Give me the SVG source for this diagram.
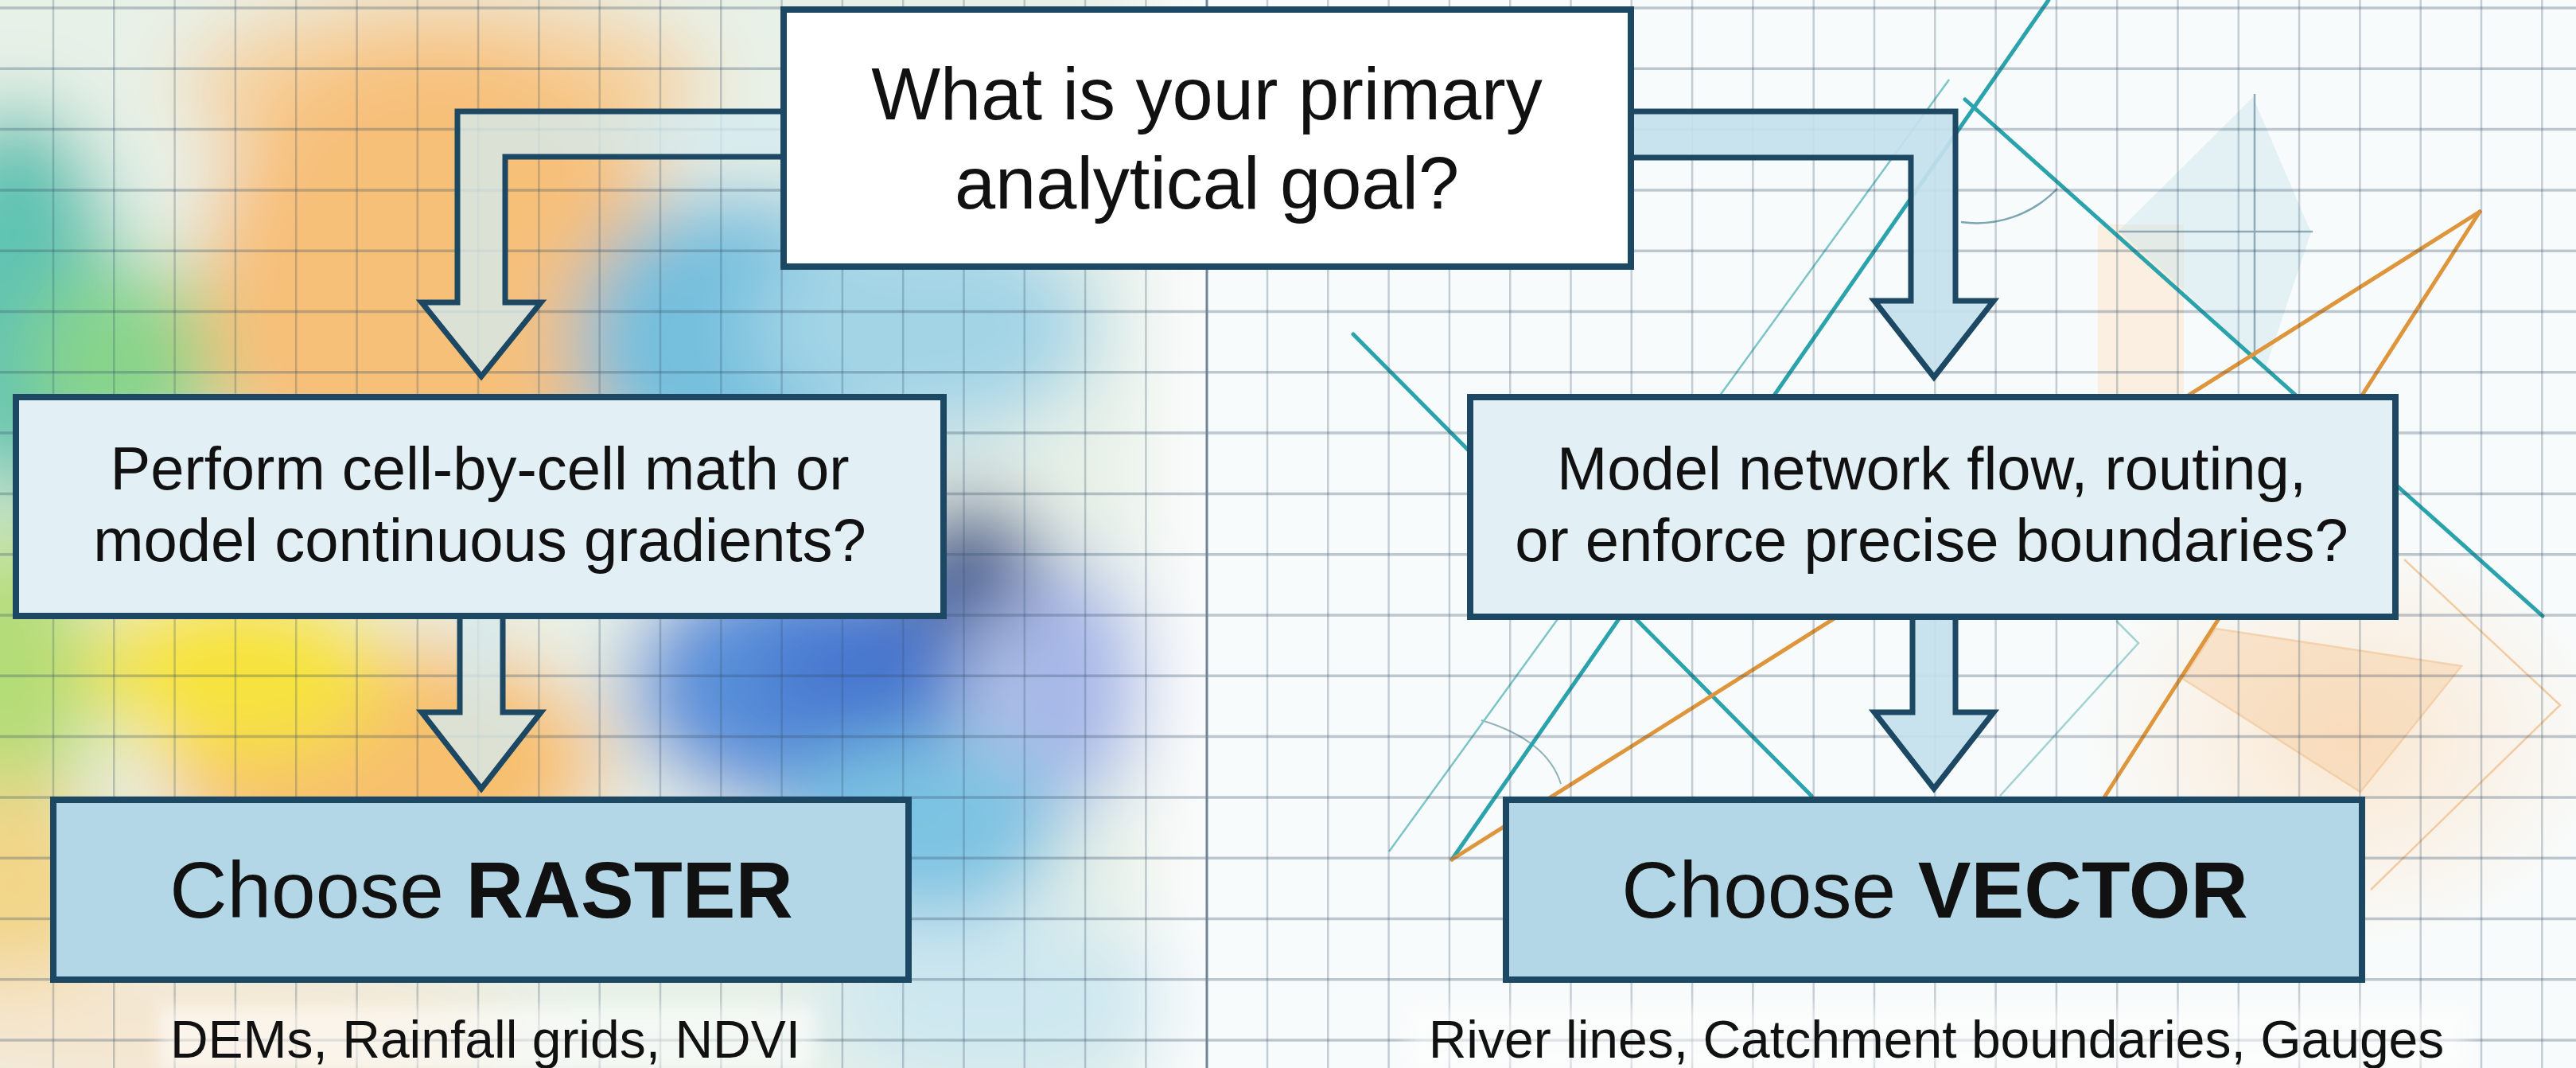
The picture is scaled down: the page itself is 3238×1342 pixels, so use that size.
<svg xmlns="http://www.w3.org/2000/svg" width="3238" height="1342" viewBox="0 0 3238 1342">
<defs>
<style>
.box{stroke:#1c4863;stroke-width:8}
.top{fill:#ffffff}
.q{fill:#e2eff5}
.choice{fill:#b3d7e6}
.arrowL{stroke:#1c4863;stroke-width:7;fill:#d5ebf0;fill-opacity:0.78}
.arrowR{stroke:#1c4863;stroke-width:7;fill:#c3e1eb;fill-opacity:0.92}
.t{font-family:"Liberation Sans",Arial,sans-serif;fill:#111;text-anchor:middle}
.teal{stroke:#2aa3ac;stroke-width:5;fill:none;stroke-linecap:round}
.tealthin{stroke:#7cc4c8;stroke-width:2.5;fill:none}
.orange{stroke:#de953c;stroke-width:5;fill:none;stroke-linecap:round}
.faint{stroke:#8eaab6;stroke-width:2.5;fill:none}
</style>
<clipPath id="leftClip"><rect x="0" y="0" width="1517" height="1342"/></clipPath>
<filter id="heat" filterUnits="userSpaceOnUse" x="-300" y="-300" width="2200" height="1950"><feGaussianBlur stdDeviation="48"/></filter>
<radialGradient id="gPeachR"><stop offset="0" stop-color="#fbe2c6" stop-opacity="0.8"/><stop offset="1" stop-color="#fbe2c6" stop-opacity="0"/></radialGradient>
<filter id="soft" x="-20%" y="-50%" width="140%" height="200%"><feGaussianBlur stdDeviation="10"/></filter>
</defs>

<!-- background -->
<rect x="0" y="0" width="3238" height="1342" fill="#f8fbfb"/>
<g id="raster-heatmap" clip-path="url(#leftClip)">
  <g filter="url(#heat)">
    <rect x="-250" y="-250" width="1700" height="1850" fill="#e8f1e8"/>
    <rect x="1450" y="-250" width="400" height="1850" fill="#fbfcfd"/>
    <ellipse cx="560" cy="110" rx="330" ry="120" fill="#f5d29e"/>
    <ellipse cx="20" cy="380" rx="130" ry="250" fill="#5fc3b2"/>
    <ellipse cx="160" cy="460" rx="130" ry="130" fill="#88d48b"/>
    <ellipse cx="550" cy="370" rx="300" ry="320" fill="#f7c079"/>
    <ellipse cx="480" cy="960" rx="280" ry="160" fill="#f7bf6e"/>
    <ellipse cx="10" cy="860" rx="110" ry="210" fill="#b3dc76"/>
    <ellipse cx="300" cy="840" rx="190" ry="120" fill="#f6e33e"/>
    <ellipse cx="20" cy="1120" rx="120" ry="150" fill="#f2d587"/>
    <ellipse cx="250" cy="1300" rx="400" ry="90" fill="#f5e6d0"/>
    <ellipse cx="930" cy="430" rx="210" ry="190" fill="#74bfdd"/>
    <ellipse cx="1160" cy="410" rx="220" ry="140" fill="#a3d4e6"/>
    <ellipse cx="1010" cy="860" rx="220" ry="160" fill="#5890d9"/>
    <ellipse cx="1090" cy="850" rx="130" ry="95" fill="#4676cf"/>
    <ellipse cx="1220" cy="710" rx="95" ry="85" fill="#485e8f"/>
    <ellipse cx="1340" cy="860" rx="95" ry="150" fill="#a6b6e8"/>
    <ellipse cx="1160" cy="1040" rx="180" ry="115" fill="#7cc3e2"/>
    <ellipse cx="1250" cy="1260" rx="220" ry="110" fill="#cde7f0"/>
  </g>
</g>

<!-- vector side decorations -->
<g id="vector-artwork">
  <ellipse cx="2950" cy="930" rx="330" ry="260" fill="url(#gPeachR)"/>
  <rect x="2637" y="282" width="108" height="213" fill="#fbe3c6" opacity="0.5"/>
  <polygon points="2832,122 2905,292 2848,462 2740,360 2663,290" fill="#c9e5ee" opacity="0.45"/>
  <path class="faint" d="M2834 118V452M2663 291H2907"/>
  <path d="M2465 279A140 140 0 0 0 2586 237" stroke="#7aa6b2" stroke-width="2.5" fill="none"/>
  <polygon points="2785,790 3094,837 2967,995 2744,853" fill="#f8d2a8" opacity="0.5" stroke="#eeb577" stroke-width="2.5"/>
  <polyline points="3022,703 3218,886 2980,1118" fill="none" stroke="#f3cba2" stroke-width="2.5"/>
  <polyline points="2660,780 2688,808 2514,1000" fill="none" stroke="#a3d2d3" stroke-width="2.5"/>
  <path d="M1862 905Q1945 930 1962 985" stroke="#93b3bb" stroke-width="2" fill="none"/>
  <line class="tealthin" x1="2450" y1="100" x2="1746" y2="1070"/>
  <line class="teal" x1="2575" y1="0" x2="1825" y2="1080"/>
  <line class="teal" x1="2470" y1="125" x2="3196" y2="774"/>
  <line class="teal" x1="1701" y1="420" x2="2277" y2="1000"/>
  <line class="orange" x1="1825" y1="1080" x2="3117" y2="266"/>
  <line class="orange" x1="3117" y1="266" x2="2643" y2="1005"/>
</g>

<!-- grid -->
<path id="grid-v" stroke="#35506a" stroke-opacity="0.27" stroke-width="2.5" fill="none" d="M67 0V1342M143.3 0V1342M219.6 0V1342M295.9 0V1342M372.2 0V1342M448.5 0V1342M524.8 0V1342M601.1 0V1342M677.4 0V1342M753.7 0V1342M830 0V1342M906.3 0V1342M982.6 0V1342M1058.9 0V1342M1135.2 0V1342M1211.5 0V1342M1287.8 0V1342M1364.1 0V1342M1440.4 0V1342M1593 0V1342M1669.3 0V1342M1745.6 0V1342M1821.9 0V1342M1898.2 0V1342M1974.5 0V1342M2050.8 0V1342M2127.1 0V1342M2203.4 0V1342M2279.7 0V1342M2356 0V1342M2432.3 0V1342M2508.6 0V1342M2584.9 0V1342M2661.2 0V1342M2737.5 0V1342M2813.8 0V1342M2890.1 0V1342M2966.4 0V1342M3042.7 0V1342M3119 0V1342M3195.3 0V1342"/>
<path id="grid-h" stroke="#35506a" stroke-opacity="0.3" stroke-width="3.5" fill="none" d="M0 10H3238M0 86.3H3238M0 162.6H3238M0 238.9H3238M0 315.2H3238M0 391.5H3238M0 467.8H3238M0 544.1H3238M0 620.4H3238M0 696.7H3238M0 773H3238M0 849.3H3238M0 925.6H3238M0 1001.9H3238M0 1078.2H3238M0 1154.5H3238M0 1230.8H3238M0 1307.1H3238"/>
<line id="divider" x1="1517" y1="0" x2="1517" y2="1342" stroke="#6f8496" stroke-width="3"/>

<!-- connectors -->
<g id="connectors">
  <path class="arrowL" d="M990 140H575V380H530L605 473L680 380H635V197H990"/>
  <path class="arrowR" d="M2045 140H2458V378H2506L2431 474L2356 378H2402V198H2045"/>
  <path class="arrowL" d="M578 770V895H530L605 991L680 895H632V770"/>
  <path class="arrowR" d="M2404 771V895H2356L2431 991L2506 895H2458V771"/>
</g>

<!-- nodes -->
<g id="goal">
  <rect class="box top" x="985" y="12" width="1065" height="323"/>
  <text class="t" x="1517" y="150" font-size="92">What is your primary</text>
  <text class="t" x="1517" y="262" font-size="92">analytical goal?</text>
</g>
<g id="raster-question">
  <rect class="box q" x="20" y="499" width="1166" height="275"/>
  <text class="t" x="603" y="615" font-size="76">Perform cell-by-cell math or</text>
  <text class="t" x="603" y="705" font-size="76">model continuous gradients?</text>
</g>
<g id="vector-question">
  <rect class="box q" x="1848" y="499" width="1163" height="276"/>
  <text class="t" x="2428" y="615" font-size="76">Model network flow, routing,</text>
  <text class="t" x="2428" y="705" font-size="76">or enforce precise boundaries?</text>
</g>
<g id="raster-choice">
  <rect class="box choice" x="67" y="1005" width="1075" height="226"/>
  <text class="t" x="605" y="1153" font-size="100">Choose <tspan font-weight="bold">RASTER</tspan></text>
</g>
<g id="vector-choice">
  <rect class="box choice" x="1893" y="1005" width="1076" height="226"/>
  <text class="t" x="2432" y="1153" font-size="100">Choose <tspan font-weight="bold">VECTOR</tspan></text>
</g>
<g id="raster-examples">
  <rect x="200" y="1265" width="825" height="80" fill="#ffffff" opacity="0.55" filter="url(#soft)"/>
  <text class="t" x="610" y="1329" font-size="66">DEMs, Rainfall grids, NDVI</text>
</g>
<g id="vector-examples">
  <rect x="1770" y="1265" width="1330" height="80" fill="#ffffff" opacity="0.5" filter="url(#soft)"/>
  <text class="t" x="2434" y="1329" font-size="66">River lines, Catchment boundaries, Gauges</text>
</g>
</svg>
